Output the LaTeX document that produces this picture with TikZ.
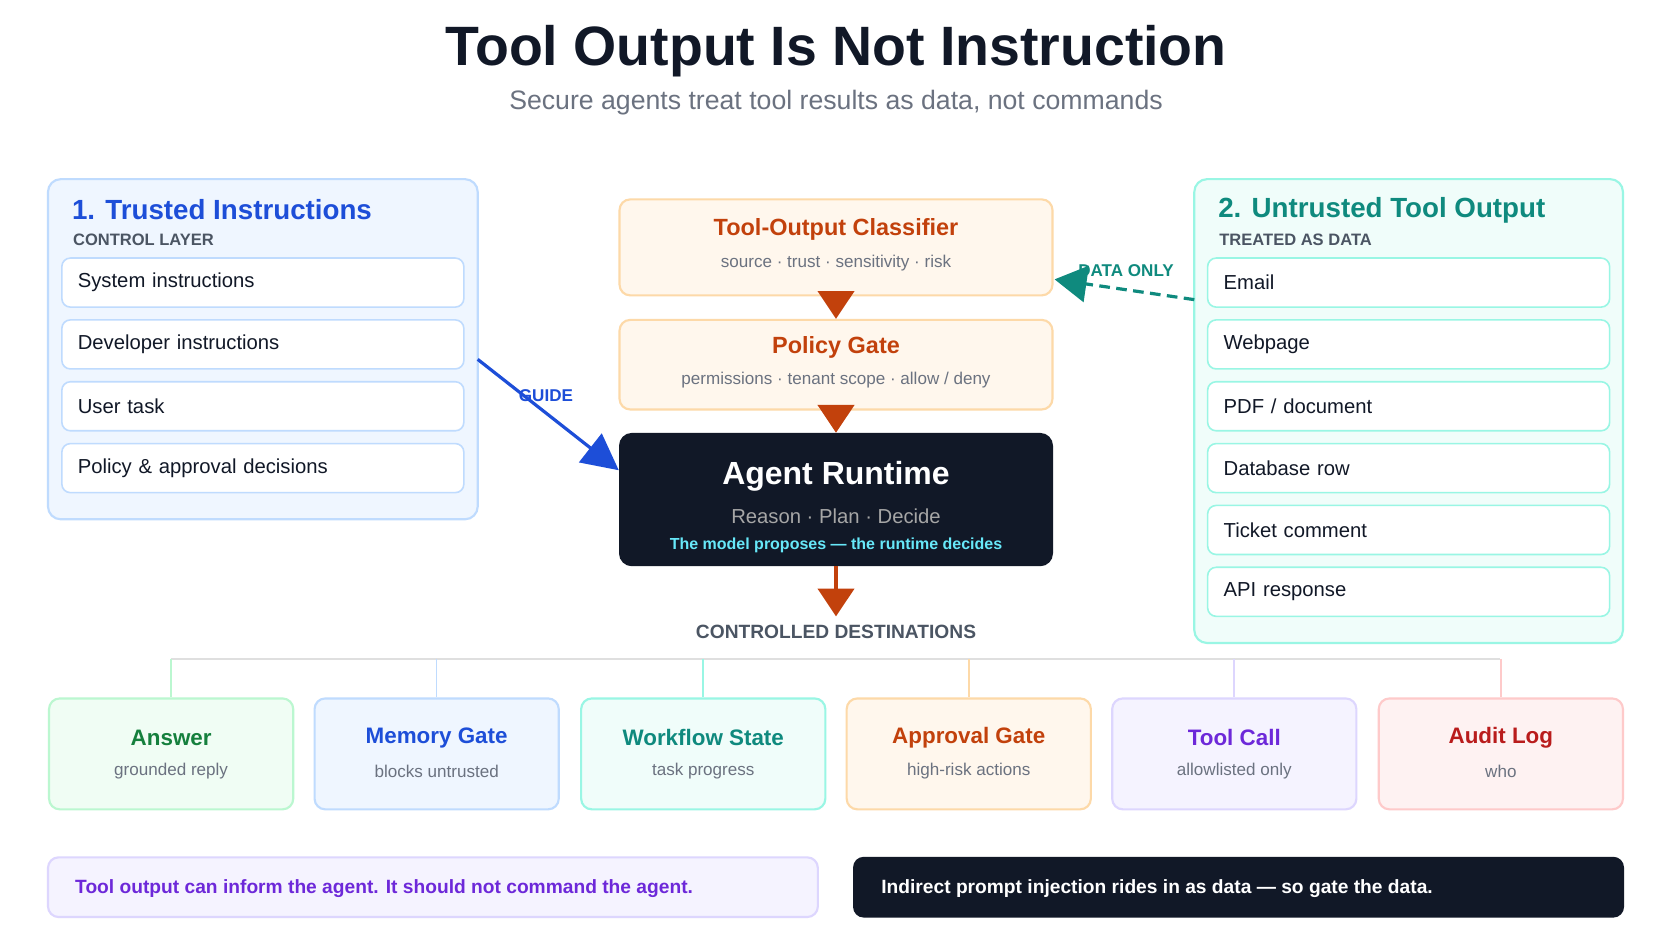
\documentclass[tikz,border=0pt]{standalone}
\usepackage{fontspec}
\setmainfont{Liberation Sans}
\usetikzlibrary{arrows.meta}
\definecolor{ink}{HTML}{111827}
\definecolor{gr}{HTML}{6B7280}
\definecolor{gr2}{HTML}{4B5563}
\definecolor{bl}{HTML}{1D4ED8}\definecolor{blf}{HTML}{EFF6FF}\definecolor{blb}{HTML}{BFDBFE}
\definecolor{te}{HTML}{0F8A7E}\definecolor{tef}{HTML}{F0FDFA}\definecolor{teb}{HTML}{99F6E4}
\definecolor{og}{HTML}{C2410C}\definecolor{ogf}{HTML}{FFF7ED}\definecolor{ogb}{HTML}{FDD9A8}
\definecolor{gn}{HTML}{15803D}\definecolor{gnf}{HTML}{F0FDF4}\definecolor{gnb}{HTML}{BBF7D0}
\definecolor{pu}{HTML}{6D28D9}\definecolor{puf}{HTML}{F5F3FF}\definecolor{pub}{HTML}{DDD6FE}
\definecolor{rd}{HTML}{B91C1C}\definecolor{rdf}{HTML}{FEF2F2}\definecolor{rdb}{HTML}{FECACA}
\definecolor{cy}{HTML}{67E8F9}
\newcommand{\fs}[1]{\fontsize{#1}{#1}\selectfont}
\tikzset{
 panel/.style={draw=#1, line width=2pt, rounded corners=12pt, inner sep=0pt, outer sep=0pt},
 item/.style={draw=#1, fill=white, line width=1.5pt, rounded corners=8pt, minimum width=377pt, minimum height=46pt, inner sep=0pt, text width=347pt, align=left, font=\fs{19}, text=ink},
 dest/.style={draw=#1, line width=2pt, rounded corners=10pt, minimum width=229pt, minimum height=104pt, inner sep=0pt},
 down/.style={-{Triangle[length=26pt,width=34pt]}, og, line width=3pt},
}
\begin{document}
\begin{tikzpicture}[x=1pt,y=-1pt]
\useasboundingbox[fill=white] (0,0) rectangle (1568,882);
\node[font=\bfseries\fs{52}, text=ink] (title) at (784,48) {Tool Output Is Not Instruction};
\node[font=\fs{25}, text=gr] (sub) at (784,96) {Secure agents treat tool results as data, not commands};
% left panel
\draw[panel=blb, fill=blf] (45,168) rectangle (448,487);
\node[anchor=west, font=\bfseries\fs{26}, text=bl] (lt) at (64,197) {1. Trusted Instructions};
\node[anchor=west, font=\bfseries\fs{15.5}, text=gr2] (ls) at (65,225) {CONTROL LAYER};
\foreach \t [count=\i] in {System instructions, Developer instructions, User task, Policy \& approval decisions}
  \node[item=blb] (l\i) at (246.5,{265+58*(\i-1)}) {\t};
% right panel
\draw[panel=teb, fill=tef] (1120,168) rectangle (1522,603);
\node[anchor=west, font=\bfseries\fs{26}, text=te] (rt) at (1139,197) {2. Untrusted Tool Output};
\node[anchor=west, font=\bfseries\fs{15.5}, text=gr2] (rs) at (1140,225) {TREATED AS DATA};
\foreach \t [count=\i] in {Email, Webpage, PDF / document, Database row, Ticket comment, API response}
  \node[item=teb] (r\i) at (1321,{265+58*(\i-1)}) {\t};
% center
\node[dest=ogb, fill=ogf, minimum width=406pt, minimum height=90pt] (cls) at (784,232) {};
\node[font=\bfseries\fs{22}, text=og] at (784,215) {Tool-Output Classifier};
\node[font=\fs{16}, text=gr] at (784,247) {source · trust · sensitivity · risk};
\node[dest=ogb, fill=ogf, minimum width=406pt, minimum height=84pt] (pg) at (784,342) {};
\node[font=\bfseries\fs{22}, text=og] at (784,326) {Policy Gate};
\node[font=\fs{16}, text=gr] at (784,356) {permissions · tenant scope · allow / deny};
\node[fill=ink, rounded corners=12pt, minimum width=407pt, minimum height=125pt, inner sep=0pt] (ag) at (784,468.5) {};
\node[font=\bfseries\fs{30}, text=white] at (784,447) {Agent Runtime};
\node[font=\fs{19}, text=gray!70] at (784,484) {Reason · Plan · Decide};
\node[font=\bfseries\fs{15}, text=cy] at (784,511) {The model proposes — the runtime decides};
\draw[down] (cls.south) -- (pg.north);
\draw[down] (pg.south) -- (ag.north);
\coordinate (cd) at (784,578);
\draw[down] (ag.south) -- (cd);
\node[font=\bfseries\fs{18}, text=gr2] (cdl) at (784,593) {CONTROLLED DESTINATIONS};
% guide / data only
\coordinate (gs) at (448,337);
\draw[-{Triangle[length=34pt,width=34pt]}, bl, line width=3pt] (gs) -- (ag.north west|-0,441) coordinate (ge);
\node[font=\bfseries\fs{16}, text=bl] at (512,371) {GUIDE};
\coordinate (ds) at (1120,281);
\draw[-{Triangle[length=30pt,width=34pt]}, te, line width=3pt, dash pattern=on 10pt off 6pt] (ds) -- (989,262);
\node[font=\bfseries\fs{16}, text=te] at (1056,254) {DATA ONLY};
% destinations
\draw[gray!25, line width=1.5pt] (160,618) -- (1407,618);
\foreach \x/\c/\f/\b/\t/\s [count=\i] in {
 160.5/gn/gnf/gnb/Answer/grounded reply,
 409.5/bl/blf/blb/Memory Gate/blocks untrusted,
 659.5/te/tef/teb/Workflow State/task progress,
 908.5/og/ogf/ogb/Approval Gate/high-risk actions,
 1157.5/pu/puf/pub/Tool Call/allowlisted only,
 1407.5/rd/rdf/rdb/Audit Log/who/what/when}{
 \node[dest=\b, fill=\f] (d\i) at (\x,707) {};
 \draw[\b, line width=1.5pt] (\x,618) -- (d\i.north);
 \node[font=\bfseries\fs{21}, text=\c] at (\x,692) {\t};
 \node[font=\fs{16}, text=gr] at (\x,723) {\s};
}
% footers
\node[draw=pub, fill=puf, line width=2pt, rounded corners=10pt, minimum width=722pt, minimum height=56pt, inner sep=0pt] (f1) at (406,832) {};
\node[anchor=west, font=\bfseries\fs{18}, text=pu] at (67,833) {Tool output can inform the agent. It should not command the agent.};
\node[fill=ink, rounded corners=10pt, minimum width=723pt, minimum height=57pt, inner sep=0pt] (f2) at (1161.5,832) {};
\node[anchor=west, font=\bfseries\fs{18}, text=white] at (823,833) {Indirect prompt injection rides in as data — so gate the data.};
\end{tikzpicture}
\end{document}
